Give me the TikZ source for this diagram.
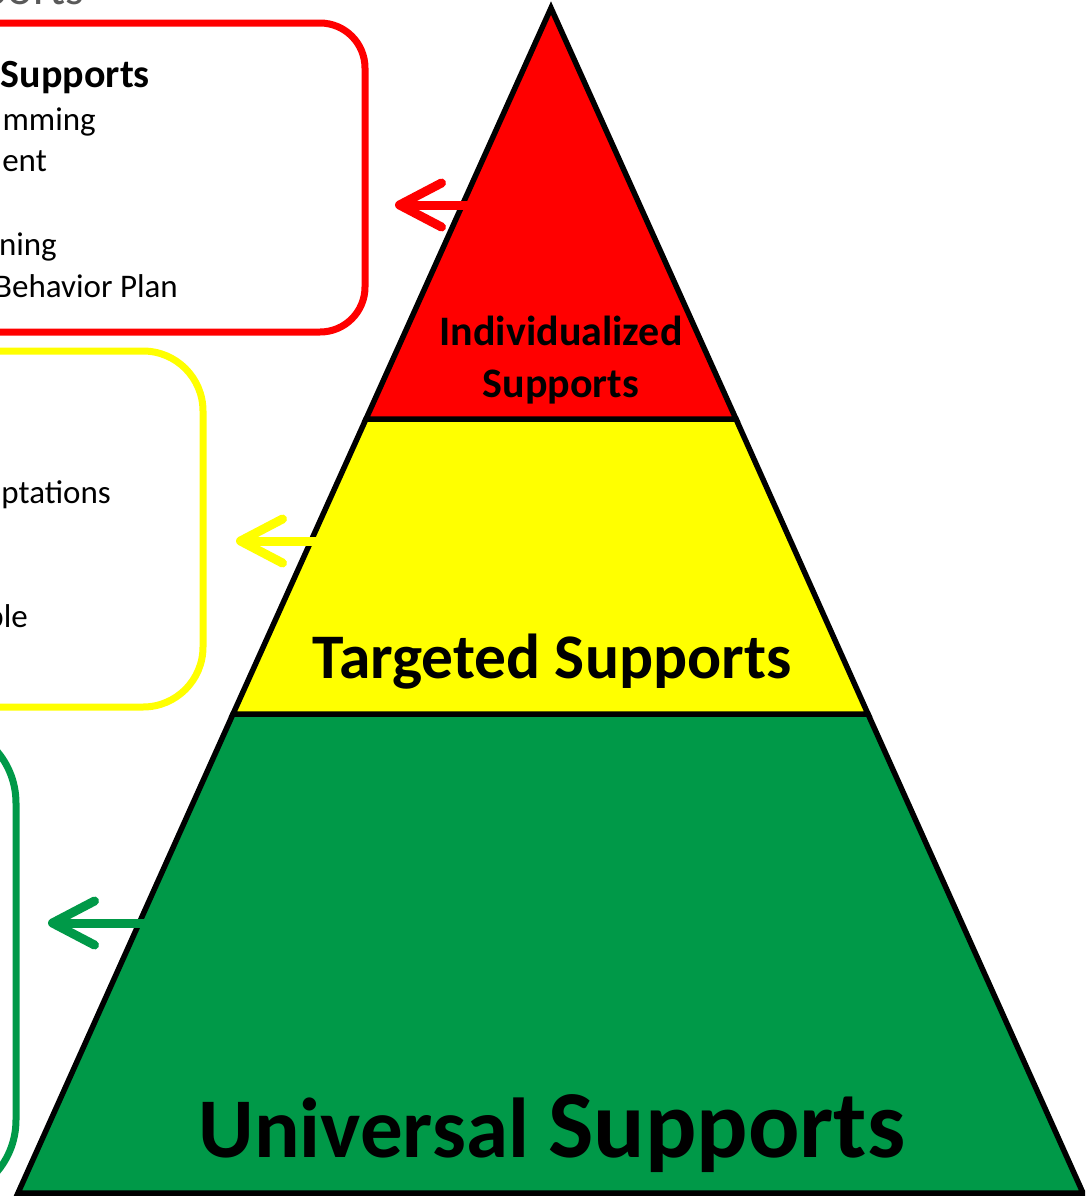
\documentclass[tikz,border=0pt]{standalone}
\usepackage{fontspec}
\setmainfont{Carlito}
\usetikzlibrary{arrows.meta}
\definecolor{tiergreen}{RGB}{0,153,72}
\definecolor{tieryellow}{RGB}{255,255,0}
\definecolor{tierred}{RGB}{255,0,0}
\definecolor{titlegray}{RGB}{89,89,89}
\tikzset{tiernode/.style={draw=black, line width=5.5pt, line join=miter},
boxnode/.style={line width=7pt},
arrownode/.style={line width=9pt, line cap=round, -{Straight Barb[length=42pt, width=44pt, round]}},
textnode/.style={anchor=base east, inner sep=0pt, font=\fontsize{33}{40}\selectfont},
labelnode/.style={anchor=base, inner sep=0pt},}

\begin{document}
\begin{tikzpicture}[x=1pt, y=-1pt]
\useasboundingbox (0,0) rectangle (1085,1197);
\clip (0,0) rectangle (1085,1197);
\coordinate (top) at (551,8);
\coordinate (rl) at (366,419);
\coordinate (rr) at (736,419);
\coordinate (yl) at (233,714);
\coordinate (yr) at (868,714);
\coordinate (gl) at (18,1193);
\coordinate (gr) at (1083,1193);
\filldraw[tiernode, fill=tiergreen] (yl) -- (gl) -- (gr) -- (yr) -- cycle;
\filldraw[tiernode, fill=tieryellow] (rl) -- (yl) -- (yr) -- (rr) -- cycle;
\filldraw[tiernode, fill=tierred] (top) -- (rl) -- (rr) -- cycle;
\draw[boxnode, tierred, rounded corners=45pt] (-200,23) rectangle (365,332);
\draw[boxnode, tieryellow, rounded corners=60pt] (-200,351) rectangle (203,707);
\draw[boxnode, tiergreen, rounded corners=80pt] (-300,723) rectangle (16,1200);
\node[textnode, font=\fontsize{48}{56}\selectfont, text=titlegray] (title) at (85,4) {Supports};
\node[textnode, font=\bfseries\fontsize{40}{48}\selectfont] (redhead) at (150,87) {Supports};
\node[textnode] (redline1) at (96,130) {mming};
\node[textnode] (redline2) at (47,171) {ent};
\node[textnode] (redline3) at (57,255) {ning};
\node[textnode] (redline4) at (178,297) {Behavior Plan};
\node[textnode] (yellowline1) at (111,503) {ptations};
\node[textnode] (yellowline2) at (28,627) {ble};
\node[labelnode, font=\bfseries\fontsize{42}{50}\selectfont] (indivtop) at (561,345) {Individualized};
\node[labelnode, font=\bfseries\fontsize{42}{50}\selectfont] (indivbottom) at (561,397) {Supports};
\node[labelnode, font=\bfseries\fontsize{63.5}{75}\selectfont] (targeted) at (552,678) {Targeted Supports};
\node[labelnode, font=\bfseries] (universal) at (552,1157) {\fontsize{85}{100}\selectfont Universal {\fontsize{96}{110}\selectfont Supports}};
\coordinate (redfrom) at (468,205);
\coordinate (redto) at (395,205);
\coordinate (yellowfrom) at (316,541);
\coordinate (yellowto) at (236,541);
\coordinate (greenfrom) at (145,923);
\coordinate (greento) at (48,923);
\draw[arrownode, tierred] (redfrom) -- (redto);
\draw[arrownode, tieryellow] (yellowfrom) -- (yellowto);
\draw[arrownode, tiergreen] (greenfrom) -- (greento);
\end{tikzpicture}
\end{document}
